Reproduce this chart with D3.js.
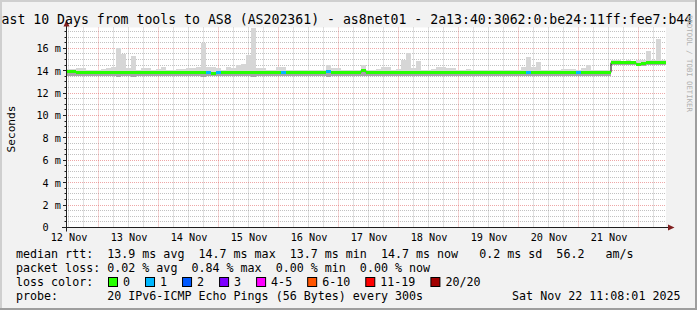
<!DOCTYPE html>
<html><head><meta charset="utf-8">
<script src="https://cdn.jsdelivr.net/npm/d3@7"></script>
<style>
html,body{margin:0;padding:0;background:#f2f2f2;}
svg{display:block;}
text{font-family:"DejaVu Sans Mono",monospace;white-space:pre;fill:#000;}
</style>
</head><body>
<svg id="c" width="697" height="310"></svg>
<script>
// ---------- data ----------
const startTime = new Date(Date.UTC(2025,10,12,11,5,0));
const endTime   = new Date(Date.UTC(2025,10,22,11,5,0));
const binHours = 2;
// median rtt per 2h bin (ms)
const median = [
 13.9,13.9,13.85,13.85,13.85,13.85,13.85,13.8,13.85,13.85,
 13.85,13.85,13.85,13.85,13.85,13.85,13.85,13.8,13.85,13.85,
 13.85,13.85,13.85,13.85,13.85,13.85,13.85,13.85,13.8,13.75,
 13.8,13.85,13.85,13.85,13.85,13.85,13.85,13.85,13.85,13.85,
 13.85,13.85,13.85,13.8,13.85,13.85,13.85,13.85,13.85,13.85,
 13.85,13.85,13.95,13.85,13.85,13.85,13.85,13.85,13.85,14.0,
 13.85,13.85,13.85,13.85,13.85,13.85,13.85,13.85,13.85,13.85,
 13.85,13.85,13.85,13.85,13.85,13.85,13.85,13.85,13.85,13.8,
 13.85,13.85,13.85,13.85,13.85,13.85,13.85,13.85,13.85,13.85,
 13.85,13.85,13.8,13.85,13.85,13.85,13.85,13.85,13.85,13.85,
 13.85,13.85,13.85,13.85,13.85,13.85,13.85,13.85,13.85,14.72,
 14.72,14.72,14.72,14.72,14.6,14.65,14.72,14.72,14.72,14.72
];
// highest ping per bin (ms)
const smokeHi = [
 14.15,14.15,14.2,14.2,14.1,14.1,14.1,14.15,14.2,14.35,
 16.0,15.5,14.2,15.3,14.1,14.25,14.25,14.1,14.15,14.35,
 14.1,14.1,14.15,14.15,14.2,14.2,14.35,16.5,14.35,14.35,
 14.2,14.1,14.35,14.2,14.5,14.6,15.4,17.8,14.2,14.2,
 14.1,14.1,14.3,14.3,14.1,14.1,14.05,14.1,14.1,14.05,
 14.1,14.1,14.5,14.2,14.2,14.1,14.1,14.05,14.1,14.5,
 14.1,14.1,14.15,14.3,14.3,14.1,14.15,15.0,15.6,14.2,
 14.85,14.1,14.1,14.15,14.3,14.3,14.25,14.25,14.1,14.1,
 14.15,14.1,14.1,14.05,14.1,14.1,14.1,14.05,14.1,14.1,
 14.1,14.35,15.2,14.3,14.8,14.1,14.1,14.1,14.1,14.15,
 14.15,14.15,14.1,14.2,14.5,14.1,14.1,14.1,14.1,14.95,
 14.95,14.9,14.95,14.9,15.0,14.95,15.8,15.0,16.8,14.95
];
// lowest ping per bin (ms)
const smokeLo = [
 13.55,13.55,13.55,13.5,13.55,13.55,13.5,13.55,13.55,13.55,
 13.45,13.5,13.5,13.45,13.55,13.5,13.5,13.55,13.55,13.5,
 13.55,13.55,13.5,13.55,13.55,13.55,13.5,13.45,13.5,13.5,
 13.5,13.55,13.5,13.55,13.55,13.5,13.5,13.45,13.55,13.55,
 13.55,13.5,13.5,13.5,13.55,13.55,13.55,13.5,13.55,13.55,
 13.5,13.5,13.4,13.5,13.55,13.55,13.55,13.55,13.5,13.5,
 13.55,13.55,13.5,13.5,13.55,13.55,13.55,13.5,13.5,13.55,
 13.5,13.55,13.55,13.55,13.5,13.5,13.55,13.55,13.55,13.5,
 13.55,13.55,13.5,13.55,13.55,13.55,13.5,13.5,13.55,13.55,
 13.55,13.5,13.5,13.5,13.55,13.55,13.55,13.55,13.5,13.55,
 13.55,13.55,13.5,13.5,13.5,13.55,13.55,13.55,13.5,14.5,
 14.5,14.55,14.5,14.5,14.45,14.45,14.5,14.5,14.5,14.55
];
// lost pings (of 20) per bin
const lossCount = [
 0,0,0,0,0,0,0,0,0,0, 0,0,0,0,0,0,0,0,0,0,
 0,0,0,0,0,0,0,0,1,0, 1,0,0,0,0,0,0,0,0,0,
 0,0,0,1,0,0,0,0,0,0, 0,0,1,0,0,0,0,0,0,0,
 0,0,0,0,0,0,0,0,0,0, 0,0,0,0,0,0,0,0,0,0,
 0,0,0,0,0,0,0,0,0,0, 0,0,1,0,0,0,0,0,0,0,
 0,0,1,0,0,0,0,0,0,0, 0,0,0,0,0,0,0,0,0,0
];
const yMajorTicks = [2,4,6,8,10,12,14,16];
const yLabelValues = [0,2,4,6,8,10,12,14,16];
const xLabelDays = [12,13,14,15,16,17,18,19,20,21];
const lossLabels = ["0","1","2","3","4-5","6-10","11-19","20/20"];
const lossBreaks = [1,2,3,4,6,11,20];
const lossColors = ["#26ff00","#00b8ff","#0059ff","#7e00ff","#ff00ff","#ff5500","#ff0000","#a10000"];
const rttStats = ["13.9","14.7","13.7","14.7"," 0.2","56.2"];
const lossStats = ["0.02","0.84","0.00","0.00"];
const titleText = "ast 10 Days from tools to AS8 (AS202361) - as8net01 - 2a13:40:3062:0:be24:11ff:fee7:b44";
const probeText = "20 IPv6-ICMP Echo Pings (56 Bytes) every 300s";
const dateText = "Sat Nov 22 11:08:01 2025";

// ---------- layout ----------
const W=697,H=310, X0=66, X1=666, YB=227.5, YT=27.5, YMAX=17.86;
const svg=d3.select("#c");
svg.append("rect").attr("width",W).attr("height",H).attr("fill","#f2f2f2");
// 3D frame
svg.append("rect").attr("x",0).attr("y",0).attr("width",W).attr("height",2).attr("fill","#cfcfcf");
svg.append("rect").attr("x",0).attr("y",0).attr("width",2).attr("height",H).attr("fill","#cfcfcf");
svg.append("rect").attr("x",0).attr("y",H-2).attr("width",W).attr("height",2).attr("fill","#9e9e9e");
svg.append("rect").attr("x",W-2).attr("y",0).attr("width",2).attr("height",H).attr("fill","#9e9e9e");

const x=d3.scaleUtc().domain([startTime,endTime]).range([X0,X1]);
const y=d3.scaleLinear().domain([0,YMAX]).range([YB,YT]);
const lossColor=d3.scaleThreshold().domain(lossBreaks).range(lossColors);

svg.append("rect").attr("x",X0).attr("y",YT).attr("width",X1-X0).attr("height",YB-YT).attr("fill","#fff");

const g=svg.append("g");
const minorCol="rgba(143,143,143,0.55)", majorCol="rgba(222,79,79,0.5)";
const px=v=>Math.floor(v)+0.5;
const minorY=d3.range(0.5,YMAX,0.5).filter(v=>Math.abs(v/2-Math.round(v/2))>1e-6);
g.selectAll(".my").data(minorY).join("line")
 .attr("x1",X0).attr("x2",X1).attr("y1",d=>px(y(d))).attr("y2",d=>px(y(d)))
 .attr("stroke",minorCol).attr("stroke-dasharray","1,1");
const sixH=d3.utcHour.every(6).range(startTime,endTime).filter(d=>d.getUTCHours()!==0);
g.selectAll(".mx").data(sixH).join("line")
 .attr("x1",d=>px(x(d))).attr("x2",d=>px(x(d))).attr("y1",YT).attr("y2",YB)
 .attr("stroke",minorCol).attr("stroke-dasharray","1,1");
g.selectAll(".My").data(yMajorTicks).join("line")
 .attr("x1",X0).attr("x2",X1).attr("y1",d=>px(y(d))).attr("y2",d=>px(y(d)))
 .attr("stroke",majorCol).attr("stroke-dasharray","1,1");
const days=d3.utcDay.range(d3.utcDay.ceil(startTime),endTime);
g.selectAll(".Mx").data(days).join("line")
 .attr("x1",d=>px(x(d))).attr("x2",d=>px(x(d))).attr("y1",YT).attr("y2",YB)
 .attr("stroke",majorCol).attr("stroke-dasharray","1,1");

// data bins
const bins=median.map((m,i)=>({
  t0:d3.utcHour.offset(startTime,i*binHours),
  t1:d3.utcHour.offset(startTime,(i+1)*binHours),
  m, hi:smokeHi[i], lo:smokeLo[i], loss:lossCount[i]
}));
const dg=svg.append("g");
dg.selectAll(".sh").data(bins).join("rect")
 .attr("x",d=>x(d.t0)).attr("width",d=>x(d.t1)-x(d.t0))
 .attr("y",d=>y(d.hi)).attr("height",d=>y(d.m)-y(d.hi))
 .attr("fill","#d6d6d6").attr("shape-rendering","crispEdges");
dg.selectAll(".sl").data(bins).join("rect")
 .attr("x",d=>x(d.t0)).attr("width",d=>x(d.t1)-x(d.t0))
 .attr("y",d=>y(d.m)).attr("height",d=>y(d.lo)-y(d.m))
 .attr("fill","#a6a6a6").attr("shape-rendering","crispEdges");
const stepPts=bins.map(d=>[x(d.t0),y(d.m)]).concat([[x(endTime),y(median[median.length-1])]]);
dg.append("path").attr("d",d3.line().curve(d3.curveStepAfter)(stepPts))
 .attr("fill","none").attr("stroke","#000").attr("stroke-width",1);
dg.selectAll(".mb").data(bins).join("rect")
 .attr("x",d=>x(d.t0)).attr("width",d=>x(d.t1)-x(d.t0))
 .attr("y",d=>y(d.m)-1.5).attr("height",3)
 .attr("fill",d=>lossColor(d.loss)).attr("shape-rendering","crispEdges");

// axes
const ax=svg.append("g");
ax.append("line").attr("x1",X0-4).attr("x2",X1+2).attr("y1",YB).attr("y2",YB).attr("stroke","#1f1f1f");
ax.append("line").attr("x1",X0+0.5).attr("x2",X0+0.5).attr("y1",YB+4).attr("y2",YT-2).attr("stroke","#1f1f1f");
ax.append("path").attr("d",`M${X1+2},${YB-3}L${X1+8.5},${YB}L${X1+2},${YB+3}Z`).attr("fill","#801f1f");
ax.append("path").attr("d",`M${X0+0.5-3},${YT-1}L${X0+0.5},${YT-7.5}L${X0+0.5+3},${YT-1}Z`).attr("fill","#801f1f");
ax.selectAll(".yt").data(yMajorTicks).join("line")
 .attr("x1",X0-3).attr("x2",X0).attr("y1",d=>px(y(d))).attr("y2",d=>px(y(d))).attr("stroke","#1f1f1f");
ax.selectAll(".ytm").data(minorY).join("line")
 .attr("x1",X0-1.5).attr("x2",X0).attr("y1",d=>px(y(d))).attr("y2",d=>px(y(d))).attr("stroke","#1f1f1f");

ax.selectAll(".yl").data(yLabelValues).join("text")
 .attr("x",61).attr("y",d=>y(d)+3.8).attr("text-anchor","end")
 .attr("font-size","10.2px").attr("xml:space","preserve")
 .text(d=>d===0?"0  ":d+" m");
ax.selectAll(".xl").data(xLabelDays).join("text")
 .attr("x",d=>x(new Date(Date.UTC(2025,10,d,12,0,0)))+0.8).attr("y",241)
 .attr("text-anchor","middle").attr("font-size","10.2px")
 .text(d=>d+" Nov");

// title (visible part, as in the reference)
svg.append("text").attr("x",1.5).attr("y",23.5).attr("font-size","13.2px").attr("xml:space","preserve").text(titleText);
svg.append("text").attr("transform","translate(15,129) rotate(-90)").attr("text-anchor","middle")
 .attr("font-size","11.2px").text("Seconds");
svg.append("text").attr("transform","translate(686.5,63.5) rotate(90)").attr("text-anchor","middle")
 .attr("font-size","7.3px").style("fill","#b0b0b0").attr("xml:space","preserve").text("RRDTOOL / TOBI OETIKER");

// legend
const LF="11.67px", LX=16;
const line1=`median rtt:  ${rttStats[0]} ms avg  ${rttStats[1]} ms max  ${rttStats[2]} ms min  ${rttStats[3]} ms now  ${rttStats[4]} ms sd  ${rttStats[5]}   am/s`;
const line2=`packet loss: ${lossStats[0]} % avg  ${lossStats[1]} % max  ${lossStats[2]} % min  ${lossStats[3]} % now`;
const lg=svg.append("g").attr("font-size",LF);
lg.append("text").attr("x",LX).attr("y",258).attr("xml:space","preserve").text(line1);
lg.append("text").attr("x",LX).attr("y",272).attr("xml:space","preserve").text(line2);
lg.append("text").attr("x",LX).attr("y",286).attr("xml:space","preserve").text("loss color:");
lg.append("text").attr("x",LX).attr("y",300).attr("xml:space","preserve").text("probe:       "+probeText);
lg.append("text").attr("x",680.5).attr("y",300).attr("text-anchor","end").text(dateText);
const CW=11.67*0.602;
let bx=108;
lossLabels.forEach((lab,i)=>{
  lg.append("rect").attr("x",bx+0.5).attr("y",277.5).attr("width",9).attr("height",9)
    .attr("fill",lossColors[i]).attr("stroke","#000").attr("stroke-width",1);
  lg.append("text").attr("x",bx+15).attr("y",286).text(lab);
  bx = bx+15+lab.length*CW+15;
});
</script>
</body></html>
